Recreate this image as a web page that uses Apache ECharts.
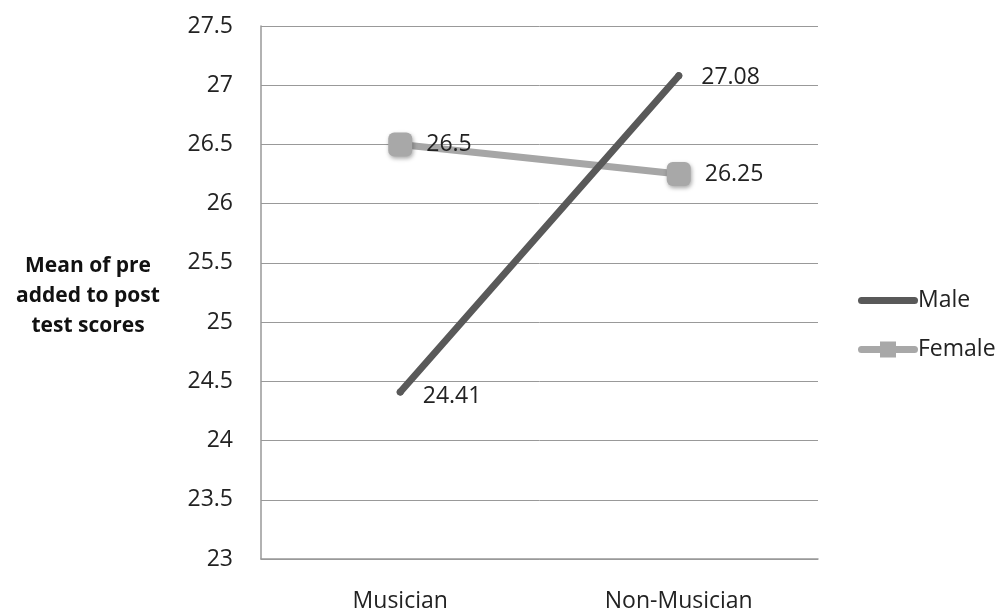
<!DOCTYPE html>
<html>
<head>
<meta charset="utf-8">
<script src="https://cdn.jsdelivr.net/npm/echarts@6/dist/echarts.min.js"></script>
<style>
  html, body { margin: 0; padding: 0; background: #ffffff; }
  #chart { width: 997px; height: 613px; }
</style>
</head>
<body>
<div id="chart"></div>
<script>
// Groups on the horizontal axis
const categories = ['Musician', 'Non-Musician'];
// Mean of pre + post test scores by gender
const maleScores = [24.41, 27.08];
const femaleScores = [26.5, 26.25];
// Value axis range
const yMin = 23;
const yMax = 27.5;
const yStep = 0.5;

const FONT = 'Open Sans';
const FS = 23;

// Legend glyphs: a thick rounded bar, and the same bar with a square marker
const MALE_ICON = 'path://M3.5,0 L56.5,0 A3.5,3.5 0 0 1 56.5,7 L3.5,7 A3.5,3.5 0 0 1 3.5,0 Z';
const FEMALE_ICON = 'path://M3.5,4.5 L56.5,4.5 A3.5,3.5 0 0 1 56.5,11.5 L3.5,11.5 A3.5,3.5 0 0 1 3.5,4.5 Z M22,0 L38,0 L38,16 L22,16 Z';

const chart = echarts.init(document.getElementById('chart'), null, { renderer: 'canvas' });

chart.setOption({
  backgroundColor: '#ffffff',
  animation: false,
  textStyle: { fontFamily: FONT },
  grid: { left: 261, top: 26, right: 179, bottom: 53, containLabel: false },
  graphic: [{
    type: 'text',
    x: 88,
    y: 251,
    style: {
      text: 'Mean of pre\nadded to post\ntest scores',
      fontFamily: FONT,
      fontWeight: 'bold',
      fontSize: 21,
      lineHeight: 30,
      fill: '#111',
      align: 'center',
      verticalAlign: 'top'
    }
  }],
  legend: {
    orient: 'vertical',
    left: 853,
    top: 284,
    itemWidth: 60,
    itemHeight: 16,
    itemGap: 26,
    textStyle: { fontFamily: FONT, fontSize: FS, color: '#222', padding: [0, 0, 0, -5] },
    data: [
      { name: 'Male', icon: MALE_ICON },
      { name: 'Female', icon: FEMALE_ICON }
    ]
  },
  xAxis: {
    type: 'category',
    data: categories,
    boundaryGap: true,
    axisLine: { show: true, lineStyle: { color: '#999', width: 1.5 } },
    axisTick: { show: false },
    axisLabel: { fontFamily: FONT, fontSize: FS, color: '#222', margin: 31 },
    splitLine: { show: false }
  },
  yAxis: {
    type: 'value',
    min: yMin,
    max: yMax,
    interval: yStep,
    axisLine: { show: true, lineStyle: { color: '#999', width: 1.5 } },
    axisTick: { show: false },
    axisLabel: { fontFamily: FONT, fontSize: FS, color: '#222', margin: 28 },
    splitLine: { show: true, lineStyle: { color: '#999', width: 1 } }
  },
  series: [
    {
      name: 'Male',
      type: 'line',
      data: maleScores,
      symbol: 'circle',
      symbolSize: 7,
      lineStyle: { color: '#595959', width: 7, cap: 'round' },
      itemStyle: { color: '#595959' },
      label: {
        show: true,
        position: 'right',
        distance: 19,
        fontFamily: FONT,
        fontSize: FS,
        color: '#222',
        formatter: p => String(p.value)
      },
      labelLayout: params => params.dataIndex === 0 ? { dy: 4 } : { dy: 2 },
      z: 3
    },
    {
      name: 'Female',
      type: 'line',
      data: femaleScores,
      symbol: 'roundRect',
      symbolSize: 24,
      lineStyle: { color: '#a6a6a6', width: 7 },
      itemStyle: {
        color: '#a8a8a8',
        shadowColor: 'rgba(0,0,0,0.35)',
        shadowBlur: 4,
        shadowOffsetX: 1,
        shadowOffsetY: 2
      },
      label: {
        show: true,
        position: 'right',
        distance: 14,
        fontFamily: FONT,
        fontSize: FS,
        color: '#222',
        formatter: p => String(p.value)
      },
      z: 2
    }
  ]
});
</script>
</body>
</html>
